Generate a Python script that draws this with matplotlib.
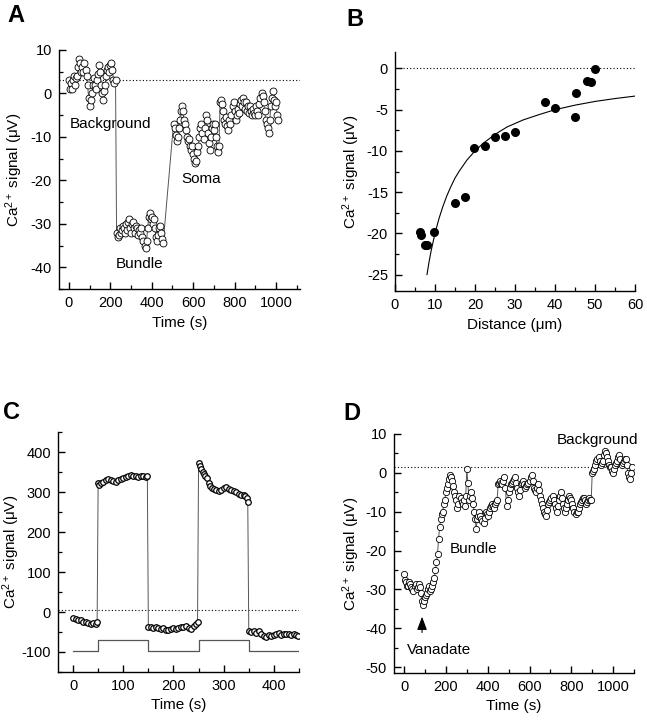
import numpy as np
import matplotlib
matplotlib.use("Agg")
import matplotlib.pyplot as plt
from matplotlib.ticker import MultipleLocator

plt.rcParams['font.family'] = ['Liberation Sans', 'DejaVu Sans']
plt.rcParams['mathtext.fontset'] = 'custom'
plt.rcParams['mathtext.rm'] = 'Liberation Sans'
plt.rcParams['mathtext.it'] = 'Liberation Sans:italic'
plt.rcParams['axes.unicode_minus'] = False

# ---------------- Panel A data ----------------
a_bg_t = [0, 5, 10, 15, 20, 25, 30, 35, 40, 45, 50, 55, 60, 65, 70, 75, 80, 85, 90, 95, 100,
          105, 110, 115, 120, 125, 130, 135, 140, 145, 150, 155, 160, 165, 170, 175, 180, 185,
          190, 195, 200, 205, 210, 215, 220, 225]
a_bg_v = [3, 1, 2.5, 1, 3, 4, 2, 3.5, 4, 6, 8, 7, 5, 6, 5, 7, 5.5, 4, 2, -1, -3,
          -1.5, 0, 2, 3.5, 2, 1, 3, 4.5, 6.5, 5, 2, 0, -1.5, 0.5, 2, 4, 5.5,
          6, 5, 6.5, 7, 5.5, 3, 2.5, 3]
a_bu_t = [230, 235, 240, 245, 250, 255, 260, 265, 270, 275, 280, 285, 290, 295, 300, 305, 310,
          315, 320, 325, 330, 335, 340, 345, 350, 355, 360, 365, 370, 375, 380, 385, 390, 395,
          400, 405, 410, 415, 420, 425, 430, 435, 440, 445, 450, 455]
a_bu_v = [-32, -33, -32.5, -31, -32, -31.5, -30.5, -31, -32, -30, -31.5, -29.5, -29, -31, -32,
          -30, -29.5, -31, -32, -30.5, -31, -32.5, -31.5, -32, -31, -33, -34, -35, -35.5, -34,
          -31, -28.5, -27.5, -29, -28.5, -30, -29, -31, -33, -34, -32.5, -31, -30.5, -32,
          -33.5, -34.5]
a_so_t = [505, 510, 515, 520, 525, 530, 535, 540, 545, 550, 555, 560, 565, 570, 575, 580, 585,
          590, 595, 600, 605, 610, 615, 620, 625, 630, 635, 640, 645, 650, 655, 660, 665, 670,
          675, 680, 685, 690, 695, 700, 705, 710, 715, 720, 725]
a_so_v = [-7, -8, -9.5, -11, -10, -8, -6, -4, -3, -4, -6, -7, -8.5, -10, -11, -10.5, -12, -13,
          -12, -14, -15, -16, -15.5, -13.5, -12, -10, -8, -7, -9, -10.5, -8, -5, -6, -9, -11.5,
          -13, -10, -8, -7, -8.5, -7, -10, -12, -13.5, -12]
a_po_t = [730, 735, 740, 745, 750, 755, 760, 765, 770, 775, 780, 785, 790, 795, 800, 805, 810,
          815, 820, 825, 830, 835, 840, 845, 850, 855, 860, 865, 870, 875, 880, 885, 890, 895,
          900, 905, 910, 915, 920, 925, 930, 935, 940, 945, 950, 955, 960, 965, 970, 975, 980,
          985, 990, 995, 1000, 1005, 1010]
a_po_v = [-2, -1.5, -2.5, -4, -6, -7, -5.5, -7.5, -8.5, -6, -7, -5, -3, -2, -4, -6, -5, -3.5,
          -4.5, -2.5, -1.5, -3, -1, -2, -3.5, -2, -4, -3, -4.5, -3, -4, -5, -3.5, -4.5, -5, -3,
          -4, -5, -2.5, -1, 0, -0.5, -2, -4, -6, -7, -8, -9, -6, -3, -1, 0.5, -1.5, -3, -2, -5, -6]
a_baseline = 3

# ---------------- Panel B data ----------------
b_dist = [6.25, 6.4, 7.5, 8.1, 9.8, 14.9, 17.4, 19.8, 22.4, 25.0, 27.5, 30.0, 37.6, 40.0,
          45.1, 45.3, 47.9, 49.0, 50.1]
b_sig = [-19.8, -20.2, -21.4, -21.4, -19.8, -16.3, -15.6, -9.6, -9.4, -8.3, -8.2, -7.7, -4.1,
         -4.8, -5.9, -3.0, -1.5, -1.7, -0.05]
b_fit_x = [8, 8.5, 9, 9.5, 10, 11, 12, 13, 14, 15, 16, 18, 20, 22, 25, 28, 32, 36, 40, 45, 50, 55, 60]
b_fit_y = [-25.0, -23.5, -22.2, -21.1, -20.0, -18.2, -16.7, -15.4, -14.3, -13.3, -12.5, -11.1,
           -10.0, -9.1, -8.0, -7.1, -6.25, -5.6, -5.0, -4.45, -4.0, -3.65, -3.35]

# ---------------- Panel C data ----------------
c_t = [0, 5, 10, 15, 20, 25, 30, 35, 40, 45, 48,
       50, 52, 55, 60, 65, 70, 75, 80, 85, 90, 95, 100, 105, 110, 115, 120, 125, 130, 135, 140, 145, 148,
       150, 155, 160, 165, 170, 175, 180, 185, 190, 195, 200, 205, 210, 215, 220, 225, 230, 235, 240, 245, 248,
       250, 252, 255, 258, 260, 263, 266, 270, 273, 276, 280, 285, 290, 295, 300, 305, 310, 315, 320, 325,
       330, 335, 340, 343, 346, 348,
       350, 355, 360, 365, 370, 375, 380, 385, 390, 395, 400, 405, 410, 415, 420, 425, 430, 435, 440, 445, 448]
c_v = [-15, -17, -19, -20, -24, -26, -28, -29, -27, -30, -25,
       324, 318, 322, 326, 330, 332, 330, 328, 326, 330, 333, 336, 338, 340, 342, 340, 341, 339, 341, 340, 339, 340,
       -37, -38, -39, -37, -40, -42, -41, -44, -45, -43, -41, -42, -39, -37, -38, -36, -39, -42, -35, -30, -25,
       372, 365, 358, 350, 345, 340, 335, 322, 315, 310, 308, 305, 302, 305, 310, 312, 308, 305, 302, 300,
       296, 292, 294, 290, 285, 275,
       -48, -50, -47, -52, -48, -55, -60, -62, -58, -60, -57, -55, -53, -57, -55, -56, -54, -57, -55, -58, -60]
c_stim_t = [0, 50, 50, 150, 150, 250, 250, 350, 350, 450]
c_stim_v = [-97, -97, -70, -70, -97, -97, -70, -70, -98, -98]
c_baseline = 6

# ---------------- Panel D data (rows of 20 samples) ----------------
d_t = [0, 5, 10, 15, 20, 25, 30, 35, 40, 45, 50, 55, 60, 65, 70, 75, 80, 85, 90, 95,
       100, 105, 110, 115, 120, 125, 130, 135, 140, 145, 150, 155, 160, 165, 170, 175, 180, 185, 190, 195,
       200, 205, 210, 215, 220, 225, 230, 235, 240, 245, 250, 255, 260, 265, 270, 275, 280, 285, 290, 295,
       300, 305, 310, 315, 320, 325, 330, 335, 340, 345, 350, 355, 360, 365, 370, 375, 380, 385, 390, 395,
       400, 405, 410, 415, 420, 425, 430, 435, 440, 445, 450, 455, 460, 465, 470, 475, 480, 485, 490, 495,
       500, 505, 510, 515, 520, 525, 530, 535, 540, 545, 550, 555, 560, 565, 570, 575, 580, 585, 590, 595,
       600, 605, 610, 615, 620, 625, 630, 635, 640, 645, 650, 655, 660, 665, 670, 675, 680, 685, 690, 695,
       700, 705, 710, 715, 720, 725, 730, 735, 740, 745, 750, 755, 760, 765, 770, 775, 780, 785, 790, 795,
       800, 805, 810, 815, 820, 825, 830, 835, 840, 845, 850, 855, 860, 865, 870, 875, 880, 885, 890, 895,
       900, 905, 910, 915, 920, 925, 930, 935, 940, 945, 950, 955, 960, 965, 970, 975, 980, 985, 990, 995,
       1000, 1005, 1010, 1015, 1020, 1025, 1030, 1035, 1040, 1045, 1050, 1055, 1060, 1065, 1070, 1075, 1080, 1085, 1090]
d_v = [-26, -27.5, -28, -29, -29, -28, -28.5, -29.5, -30, -30.5, -29, -28.5, -30, -29.5, -28.5, -29.5, -31, -33, -34, -33,
       -32, -31.5, -31, -30, -29, -30.5, -30, -29, -28, -27, -25, -23, -21, -17, -14, -12, -10.5, -10, -8, -7,
       -5, -4, -3, -1.5, -0.5, -1, -2, -3.5, -5, -6, -7, -9, -8, -6, -6.5, -7.5, -8, -7, -8.5, -6,
       1, -2.5, -7, -6, -5, -6.5, -8, -10, -12, -14.5, -12, -11, -10, -11, -12, -12.5, -13, -11.5, -10, -10.5,
       -11, -10, -9, -8.5, -8, -8.5, -9, -8, -7.5, -7, -3, -2.5, -2, -2.5, -3, -2, -1, -4, -8.5, -7,
       -5, -4, -3, -2.5, -2, -1.5, -1, -2.5, -4, -5, -6, -4.5, -3, -2.5, -2, -3, -4, -3.5, -3, -2.5,
       -2, -1, -0.5, -2, -4, -4.5, -5, -4, -3, -4.5, -6, -7, -8, -9, -10, -10.5, -11, -9.5, -8, -7.5,
       -7, -6.5, -6, -7, -8, -9, -10, -8.5, -7, -6, -5, -6.5, -8, -9, -10, -9, -8, -7, -6, -6.5,
       -7, -8, -9, -10, -10.5, -10, -10, -9, -8, -7.5, -7, -6.5, -6.5, -7, -8, -7.5, -7, -6.5, -7, -7,
       0, 0.5, 1, 2, 3, 3.5, 4, 3, 2, 2.5, 3, 4.5, 5.5, 5, 4, 3, 2, 1.5, 1.5, 0.5,
       0, 1, 2, 2.5, 3, 4, 4.5, 3.5, 2, 2.5, 3, 3.5, 3.5, 2, 0, -1, -1.5, 0, 1.5]
d_baseline = 1.5
d_arrow_t = 86

# ---------------- Figure ----------------
fig = plt.figure(figsize=(6.47, 7.2), dpi=100)
axA = fig.add_axes([0.0912, 0.5986, 0.3725, 0.332])
axB = fig.add_axes([0.6105, 0.5958, 0.371, 0.332])
axC = fig.add_axes([0.0896, 0.0667, 0.3725, 0.333])
axD = fig.add_axes([0.609, 0.0653, 0.371, 0.332])

tick_fs = 10.5
lab_fs = 11
ylabel = 'Ca$^{2+}$ signal (μV)'

def style(ax, xmaj, xmin, ymaj, ymin):
    for s in ['top', 'right']:
        ax.spines[s].set_visible(False)
    for s in ['left', 'bottom']:
        ax.spines[s].set_linewidth(1.0)
    ax.xaxis.set_major_locator(MultipleLocator(xmaj))
    ax.xaxis.set_minor_locator(MultipleLocator(xmin))
    ax.yaxis.set_major_locator(MultipleLocator(ymaj))
    ax.yaxis.set_minor_locator(MultipleLocator(ymin))
    ax.tick_params(which='major', direction='in', length=5, width=1.0, labelsize=tick_fs, pad=5)
    ax.tick_params(which='minor', direction='in', length=3, width=0.9)

line_kw = dict(color='#555555', lw=0.7, zorder=2)
mk_kw = dict(ls='none', marker='o', mfc='white', mec='black', mew=0.6, zorder=3)

# Panel A
all_t = a_bg_t + a_bu_t + a_so_t + a_po_t
all_v = a_bg_v + a_bu_v + a_so_v + a_po_v
axA.axhline(a_baseline, color='black', lw=0.8, ls=(0, (1, 2)), zorder=1)
axA.plot(all_t, all_v, **line_kw)
axA.plot(all_t, all_v, ms=5, **mk_kw)
axA.set_xlim(-48, 1116)
axA.set_ylim(-45, 10)
style(axA, 200, 100, 10, 5)
axA.set_xlabel('Time (s)', fontsize=lab_fs)
axA.set_ylabel(ylabel, fontsize=lab_fs)
axA.yaxis.set_label_coords(-0.141, 0.5)
axA.text(200, -7, 'Background', fontsize=lab_fs, ha='center', va='center')
axA.text(638, -19.6, 'Soma', fontsize=lab_fs, ha='center', va='center')
axA.text(342, -39.2, 'Bundle', fontsize=lab_fs, ha='center', va='center')

# Panel B
axB.plot([2, 60], [0, 0], color='black', lw=0.8, ls=(0, (1, 2)), zorder=1)
axB.plot(b_fit_x, b_fit_y, color='black', lw=0.8, zorder=2)
axB.plot(b_dist, b_sig, ls='none', marker='o', mfc='black', mec='black', ms=5.5, zorder=3)
axB.set_xlim(0, 60)
axB.set_ylim(-27, 2)
style(axB, 10, 5, 5, 2.5)
axB.set_xlabel('Distance (μm)', fontsize=lab_fs)
axB.set_ylabel(ylabel, fontsize=lab_fs)
axB.yaxis.set_label_coords(-0.1375, 0.5)

# Panel C
axC.axhline(c_baseline, color='black', lw=0.8, ls=(0, (1, 2)), zorder=1)
axC.plot(c_stim_t, c_stim_v, color='#555555', lw=0.9, zorder=2)
axC.plot(c_t, c_v, **line_kw)
axC.plot(c_t, c_v, ls='none', marker='o', mfc='white', mec='black', mew=0.9, ms=4, zorder=3)
axC.set_xlim(-30, 450)
axC.set_ylim(-150, 450)
style(axC, 100, 50, 100, 50)
axC.set_xlabel('Time (s)', fontsize=lab_fs)
axC.set_ylabel(ylabel, fontsize=lab_fs)
axC.yaxis.set_label_coords(-0.149, 0.5)

# Panel D
axD.axhline(d_baseline, color='black', lw=0.8, ls=(0, (1, 2)), zorder=1)
axD.plot(d_t, d_v, **line_kw)
axD.plot(d_t, d_v, ms=4.5, **mk_kw)
axD.set_xlim(-48, 1100)
axD.set_ylim(-51.5, 10)
style(axD, 200, 100, 10, 5)
axD.set_xlabel('Time (s)', fontsize=lab_fs)
axD.set_ylabel(ylabel, fontsize=lab_fs)
axD.yaxis.set_label_coords(-0.133, 0.5)
axD.annotate('', xy=(d_arrow_t, -36.3), xytext=(d_arrow_t, -41.8),
             arrowprops=dict(arrowstyle='-|>,head_length=0.8,head_width=0.3', color='black', lw=0.8))
axD.text(16, -45.5, 'Vanadate', fontsize=lab_fs, ha='left', va='center')
axD.text(333, -19.5, 'Bundle', fontsize=lab_fs, ha='center', va='center')
axD.text(923, 8.5, 'Background', fontsize=lab_fs, ha='center', va='center', clip_on=False)

# Panel letters
for x, y, s in [(0.011, 0.978, 'A'), (0.535, 0.973, 'B'), (0.005, 0.427, 'C'), (0.530, 0.426, 'D')]:
    fig.text(x, y, s, fontsize=17, fontweight='bold', ha='left', va='center')

fig.savefig('out.png', dpi=100)
